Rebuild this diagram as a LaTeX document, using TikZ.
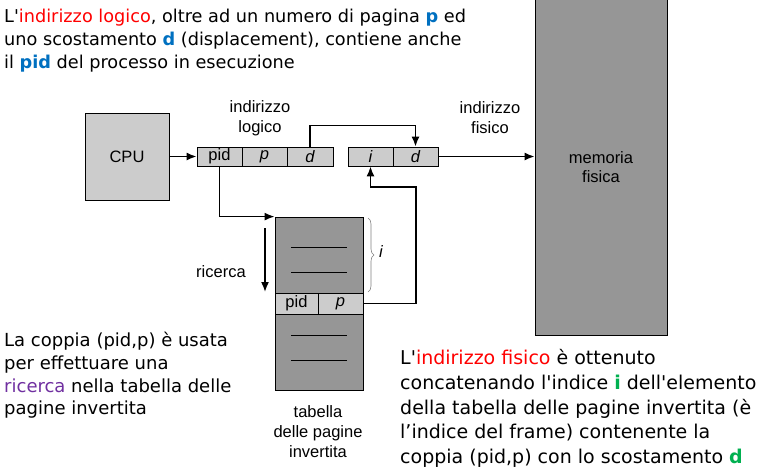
\documentclass[tikz,border=0pt]{standalone}
\usepackage{fontspec}
\setmainfont{DejaVu Sans}[Ligatures=TeXOff]
\newfontfamily\diagfont{Liberation Sans}
\usetikzlibrary{arrows.meta,positioning,decorations.pathreplacing}
\definecolor{lightbox}{RGB}{204,204,204}
\definecolor{darkbox}{RGB}{150,150,150}
\definecolor{kwred}{RGB}{255,0,0}
\definecolor{kwblue}{RGB}{0,112,192}
\definecolor{kwpurple}{RGB}{112,48,160}
\definecolor{kwgreen}{RGB}{0,176,80}
\newcommand{\kwb}[1]{\textcolor{kwblue}{\bfseries #1}}
\newcommand{\kwg}[1]{\textcolor{kwgreen}{\bfseries #1}}
\tikzset{
  box/.style={draw, line width=0.8pt, fill=lightbox, inner sep=0pt, align=center,
    font=\diagfont\fontsize{16.5}{19.5}\selectfont},
  cell/.style={box, minimum width=45pt, minimum height=19pt},
  bigbox/.style={box, fill=darkbox},
  diaglbl/.style={align=center, inner sep=0pt, font=\diagfont\fontsize{16.5}{20}\selectfont},
  note/.style={align=left, anchor=north west, inner sep=0pt},
  ->/.style={-{Latex[length=10pt,width=8pt]}, line width=1.6pt}
}

\begin{document}
\begin{tikzpicture}[x=1pt,y=-1pt]
\useasboundingbox (0,0) rectangle (764,469);

% CPU and physical memory
\node[box, minimum width=84pt, minimum height=87pt] (cpu) at (127,156.5) {CPU};
\node[bigbox, minimum width=132pt, minimum height=336pt] (mem) at (601,167) {memoria\\fisica};

% Logical address register
\node[cell] (pidL) at (219.5,156.5) {pid};
\node[cell] (pL) at (264.5,156.5) {\itshape p};
\node[cell, minimum width=46pt] (dL) at (310,156.5) {\itshape d};
\node[diaglbl] (lblL) at (260,118) {indirizzo\\logico};

% Physical address register
\node[cell] (iF) at (370.5,156.5) {\itshape i};
\node[cell] (dF) at (415.5,156.5) {\itshape d};
\node[diaglbl] (lblF) at (490,118) {indirizzo\\fisico};

% Inverted page table
\node[bigbox, minimum width=88pt, minimum height=173pt] (tab) at (319,303.5) {};
\node[cell, minimum width=43pt, minimum height=21pt] (tpid) at (296.5,303.5) {pid};
\node[cell, minimum width=45pt, minimum height=21pt] (tp) at (340.5,303.5) {\itshape p};
\foreach \yy in {247,272,335,360}
  \draw[line width=0.8pt] (291,\yy) -- (347,\yy);
\node[diaglbl] (lblT) at (318,432) {tabella\\delle pagine\\invertita};

% Search direction
\coordinate (srchtop) at (265,228);
\coordinate (srchbot) at (265,292);
\draw[->] (srchtop) -- (srchbot);
\node[diaglbl] (lblR) at (221,272) {ricerca};

% Brace for index i
\coordinate (brtop) at (368,218);
\coordinate (brbot) at (368,292);
\draw[gray, line width=0.6pt, decorate, decoration={brace, amplitude=6pt}] (brtop) -- (brbot);
\node[diaglbl, anchor=west] (lblI) at (379,252) {\itshape i};

% Connectors
\draw[->] (cpu) -- (pidL);
\draw[->] (dF.east) -- (dF.east -| mem.west);
\draw[->] (dL.north) -- ++(0,-21) -| (dF.north);
\draw[->] (pidL.south) |- (tab.north west);
\coordinate (ret) at (416,187);
\draw[->] (tp.east) -| (ret) -| (iF.south);

% Explanatory notes
\node[note, font=\fontsize{17.7}{23}\selectfont] (noteTop) at (4,9)
  {L'\textcolor{kwred}{indirizzo logico}, oltre ad un numero di pagina \kwb{p} ed\\
   uno scostamento \kwb{d} (displacement), contiene anche\\
   il \kwb{pid} del processo in esecuzione};
\node[note, font=\fontsize{18}{22.7}\selectfont] (noteLeft) at (4,332)
  {La coppia (pid,p) è usata\\
   per effettuare una\\
   \textcolor{kwpurple}{ricerca} nella tabella delle\\
   pagine invertita};
\node[note, font=\fontsize{19}{24.8}\selectfont] (noteRight) at (400,349)
  {L'\textcolor{kwred}{indirizzo fisico} è ottenuto\\
   concatenando l'indice \kwg{i} dell'elemento\\
   della tabella delle pagine invertita (è\\
   l’indice del frame) contenente la\\
   coppia (pid,p) con lo scostamento \kwg{d}};

\end{tikzpicture}
\end{document}
